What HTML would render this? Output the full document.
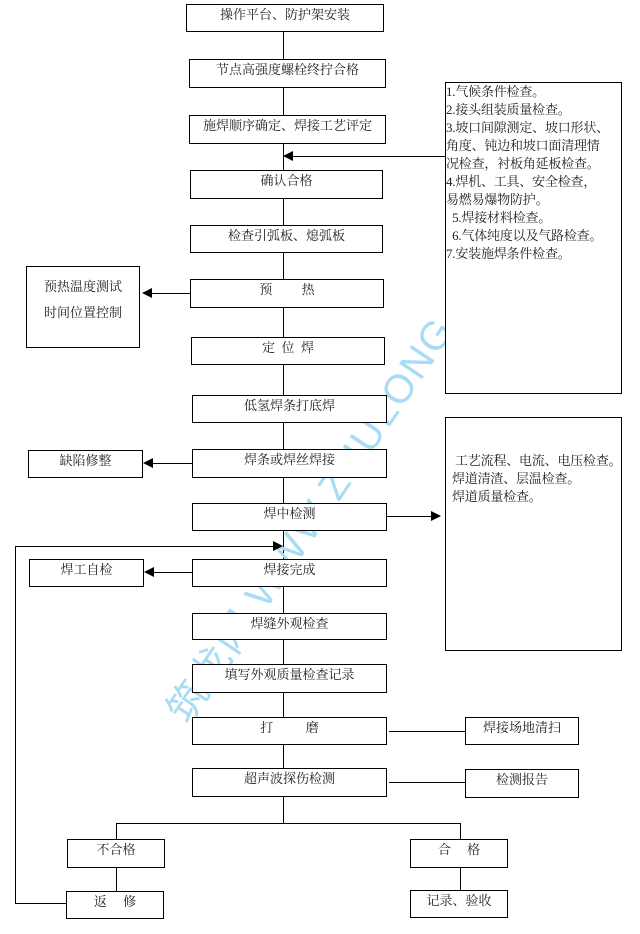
<!DOCTYPE html>
<html><head><meta charset="utf-8"><style>
body{margin:0;width:640px;height:934px;background:#fff;position:relative;overflow:hidden;font-family:"Liberation Serif","Noto Serif CJK SC","Noto Sans CJK SC",serif;color:#222}
.b{position:absolute;border:1.3px solid #000;box-sizing:border-box;text-align:center;font-size:13px;line-height:14px;padding-top:3px;background:#fff}
.h{position:absolute;height:1px;background:#000}
.v{position:absolute;width:1px;background:#000}
.al{position:absolute;width:0;height:0;border-top:5px solid transparent;border-bottom:5px solid transparent;border-right:10px solid #000}
.ar{position:absolute;width:0;height:0;border-top:5px solid transparent;border-bottom:5px solid transparent;border-left:10px solid #000}
.t{position:absolute;font-size:13px;line-height:18px;text-align:left;white-space:nowrap;letter-spacing:-0.2px}
.wm{position:absolute;font-family:"Liberation Sans","Noto Sans CJK SC",sans-serif;font-size:40px;color:#a8dcf4;transform:rotate(-56deg);transform-origin:0 0;white-space:nowrap;letter-spacing:2px}
</style></head><body>
<div class="v" style="left:283px;top:31px;height:792px"></div>
<div class="wm" style="left:150px;top:700px">筑龙网 WWW.ZHULONG.COM</div>

<div class="b" style="left:186px;top:4px;width:198px;height:28px">操作平台、防护架安装</div>
<div class="b" style="left:189px;top:59px;width:197px;height:29px">节点高强度螺栓终拧合格</div>
<div class="b" style="left:189px;top:115px;width:197px;height:29px">施焊顺序确定、焊接工艺评定</div>
<div class="b" style="left:190px;top:170px;width:193px;height:29px">确认合格</div>
<div class="b" style="left:190px;top:225px;width:193px;height:28px">检查引弧板、熄弧板</div>
<div class="b" style="left:190px;top:279px;width:194px;height:29px">预&nbsp;&nbsp;&nbsp;&nbsp;&nbsp;&nbsp;&nbsp;&nbsp;&nbsp;热</div>
<div class="b" style="left:191px;top:337px;width:194px;height:28px">定&nbsp;&nbsp;位&nbsp;&nbsp;焊</div>
<div class="b" style="left:192px;top:395px;width:195px;height:28px">低氢焊条打底焊</div>
<div class="b" style="left:192px;top:449px;width:195px;height:29px">焊条或焊丝焊接</div>
<div class="b" style="left:192px;top:503px;width:195px;height:28px">焊中检测</div>
<div class="b" style="left:192px;top:559px;width:195px;height:28px">焊接完成</div>
<div class="b" style="left:192px;top:613px;width:195px;height:27px">焊缝外观检查</div>
<div class="b" style="left:192px;top:664px;width:195px;height:29px">填写外观质量检查记录</div>
<div class="b" style="left:192px;top:717px;width:195px;height:28px">打&nbsp;&nbsp;&nbsp;&nbsp;&nbsp;&nbsp;&nbsp;&nbsp;&nbsp;&nbsp;磨</div>
<div class="b" style="left:192px;top:768px;width:195px;height:29px">超声波探伤检测</div>

<div class="b" style="left:445px;top:82px;width:177px;height:312px"></div>
<div class="t" style="left:446px;top:83px">1.气候条件检查。<br>2.接头组装质量检查。<br>3.坡口间隙测定、坡口形状、<br>角度、钝边和坡口面清理情<br>况检查，衬板角延板检查。<br>4.焊机、工具、安全检查，<br>易燃易爆物防护。<br>&nbsp;&nbsp;5.焊接材料检查。<br>&nbsp;&nbsp;6.气体纯度以及气路检查。<br>7.安装施焊条件检查。</div>
<div class="h" style="left:293px;top:156px;width:152px"></div>
<div class="al" style="left:283px;top:151px"></div>

<div class="b" style="left:445px;top:417px;width:177px;height:234px"></div>
<div class="t" style="left:452px;top:452px">&nbsp;工艺流程、电流、电压检查。<br>焊道清渣、层温检查。<br>焊道质量检查。</div>
<div class="h" style="left:387px;top:516px;width:44px"></div>
<div class="ar" style="left:431px;top:511px"></div>

<div class="b" style="left:26px;top:266px;width:114px;height:82px;padding-top:7px;line-height:26px">预热温度测试<br>时间位置控制</div>
<div class="h" style="left:152px;top:293px;width:38px"></div>
<div class="al" style="left:142px;top:288px"></div>

<div class="b" style="left:28px;top:450px;width:115px;height:28px">缺陷修整</div>
<div class="h" style="left:153px;top:463px;width:39px"></div>
<div class="al" style="left:143px;top:458px"></div>

<div class="b" style="left:29px;top:559px;width:115px;height:28px">焊工自检</div>
<div class="h" style="left:154px;top:572px;width:38px"></div>
<div class="al" style="left:144px;top:567px"></div>

<div class="h" style="left:15px;top:546px;width:258px"></div>
<div class="ar" style="left:273px;top:541px"></div>
<div class="v" style="left:15px;top:546px;height:358px"></div>
<div class="h" style="left:15px;top:903px;width:52px"></div>

<div class="b" style="left:465px;top:717px;width:114px;height:28px">焊接场地清扫</div>
<div class="h" style="left:389px;top:731px;width:76px"></div>
<div class="b" style="left:465px;top:769px;width:114px;height:29px">检测报告</div>
<div class="h" style="left:389px;top:782px;width:76px"></div>

<div class="h" style="left:116px;top:823px;width:345px"></div>
<div class="v" style="left:116px;top:823px;height:16px"></div>
<div class="v" style="left:460px;top:823px;height:16px"></div>
<div class="b" style="left:67px;top:839px;width:98px;height:29px">不合格</div>
<div class="b" style="left:410px;top:839px;width:98px;height:29px">合&nbsp;&nbsp;&nbsp;&nbsp;&nbsp;格</div>
<div class="v" style="left:116px;top:868px;height:23px"></div>
<div class="v" style="left:460px;top:868px;height:22px"></div>
<div class="b" style="left:66px;top:891px;width:98px;height:28px">返&nbsp;&nbsp;&nbsp;&nbsp;&nbsp;修</div>
<div class="b" style="left:410px;top:890px;width:98px;height:28px">记录、验收</div>
</body></html>
